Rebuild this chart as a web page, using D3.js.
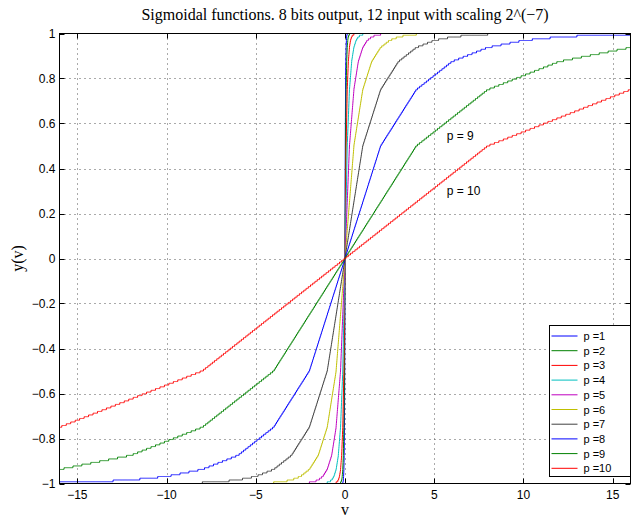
<!DOCTYPE html>
<html>
<head>
<meta charset="utf-8">
<script src="https://cdn.jsdelivr.net/npm/d3@7"></script>
<style>
  body { margin: 0; background: #fff; }
  svg { display: block; }
  .tick-label { font-family: "Liberation Sans", Arial, sans-serif; font-size: 12px; fill: #000; }
  .serif { font-family: "Liberation Serif", "Times New Roman", serif; fill: #000; }
</style>
</head>
<body>
<svg width="632" height="519"></svg>
<script>
// series: word length p, and the input value where each sigmoid reaches 0.5
const pValues = [1, 2, 3, 4, 5, 6, 7, 8, 9, 10];
const halfPoint = [1/64, 1/32, 1/16, 1/8, 1/4, 1/2, 1, 2, 4, 8];
// piecewise linear knots of the sigmoid at u = 0,1,2,...
const knotY = [0, 0.5, 0.75, 0.875, 0.9375, 0.96875, 0.984375, 0.9921875, 0.99609375, 1];
const colors = ["#0000ff", "#008000", "#ff0000", "#00bfbf", "#bf00bf", "#bfbf00", "#404040",
                "#0000ff", "#008000", "#ff0000"];
const xTicks = [-15, -10, -5, 0, 5, 10, 15];
const yTicks = [-1, -0.8, -0.6, -0.4, -0.2, 0, 0.2, 0.4, 0.6, 0.8, 1];
const inputBits = 12, inputFrac = 7, outputFrac = 7;

const svg = d3.select("svg");
const pLeft = 59.5, pRight = 630.5, pTop = 33.5, pBottom = 483.5;

const x = d3.scaleLinear().domain([-16, 16]).range([pLeft, pRight]);
const y = d3.scaleLinear().domain([-1, 1]).range([pBottom, pTop]);

function sigmoid(v, h) {
    const u = Math.abs(v) / h;
    const i = Math.floor(u);
    let s;
    if (i >= knotY.length - 1) s = 1;
    else s = knotY[i] + (u - i) * (knotY[i + 1] - knotY[i]);
    s = Math.round(s * (1 << outputFrac)) / (1 << outputFrac);
    return v < 0 ? -s : s;
}

// quantized input grid
const n = 1 << (inputBits - 1);
const inputs = d3.range(-n, n).map(k => k / (1 << inputFrac));

// grid
const grid = svg.append("g")
    .attr("stroke", "#555").attr("stroke-width", 1).attr("stroke-dasharray", "1,4");
xTicks.forEach(t => grid.append("line")
    .attr("x1", Math.round(x(t)) + 0.5).attr("x2", Math.round(x(t)) + 0.5)
    .attr("y1", pTop).attr("y2", pBottom));
yTicks.slice(1, -1).forEach(t => grid.append("line")
    .attr("y1", Math.round(y(t)) + 0.5).attr("y2", Math.round(y(t)) + 0.5)
    .attr("x1", pLeft).attr("x2", pRight));

svg.append("clipPath").attr("id", "plot")
    .append("rect").attr("x", pLeft).attr("y", pTop)
    .attr("width", pRight - pLeft).attr("height", pBottom - pTop);

const line = d3.line().x(d => x(d[0])).y(d => y(d[1]));

const curves = svg.append("g").attr("clip-path", "url(#plot)");
pValues.forEach((p, i) => {
    const pts = inputs.map(v => [v, sigmoid(v, halfPoint[i])]);
    curves.append("path")
        .attr("d", line(pts))
        .attr("fill", "none")
        .attr("stroke", colors[i])
        .attr("stroke-width", 1);
});

// axes box with inward ticks on all sides
const tickLen = 5;
const box = svg.append("g").attr("stroke", "#000").attr("stroke-width", 1);
box.append("rect").attr("x", pLeft).attr("y", pTop)
    .attr("width", pRight - pLeft).attr("height", pBottom - pTop).attr("fill", "none");
xTicks.forEach(t => {
    const px = Math.round(x(t)) + 0.5;
    box.append("line").attr("x1", px).attr("x2", px).attr("y1", pBottom).attr("y2", pBottom - tickLen);
    box.append("line").attr("x1", px).attr("x2", px).attr("y1", pTop).attr("y2", pTop + tickLen);
});
yTicks.forEach(t => {
    const py = Math.round(y(t)) + 0.5;
    box.append("line").attr("y1", py).attr("y2", py).attr("x1", pLeft).attr("x2", pLeft + tickLen);
    box.append("line").attr("y1", py).attr("y2", py).attr("x1", pRight).attr("x2", pRight - tickLen);
});

const fmt = t => (t < 0 ? "\u2212" : "") + d3.format("~g")(Math.abs(t));

svg.selectAll(".ytl").data(yTicks).enter().append("text")
    .attr("class", "tick-label")
    .attr("x", pLeft - 4)
    .attr("y", d => y(d) + 4)
    .attr("text-anchor", "end")
    .text(fmt);

svg.selectAll(".xtl").data(xTicks).enter().append("text")
    .attr("class", "tick-label")
    .attr("x", d => x(d))
    .attr("y", pBottom + 15)
    .attr("text-anchor", "middle")
    .text(fmt);

// title and axis labels
svg.append("text").attr("class", "serif")
    .attr("x", (pLeft + pRight) / 2).attr("y", 20)
    .attr("text-anchor", "middle").attr("font-size", 16)
    .text("Sigmoidal functions. 8 bits output, 12 input with scaling 2^(\u22127)");
svg.append("text").attr("class", "serif")
    .attr("x", (pLeft + pRight) / 2).attr("y", 515)
    .attr("text-anchor", "middle").attr("font-size", 16)
    .text("v");
svg.append("text").attr("class", "serif")
    .attr("transform", `translate(23,${(pTop + pBottom) / 2}) rotate(-90)`)
    .attr("text-anchor", "middle").attr("font-size", 16)
    .text("y(v)");

// annotations
const notes = [["p = 9", 5.7, 0.525], ["p = 10", 5.7, 0.282]];
svg.selectAll(".note").data(notes).enter().append("text")
    .attr("class", "tick-label")
    .attr("x", d => x(d[1]))
    .attr("y", d => y(d[2]))
    .text(d => d[0]);

// legend
const lg = svg.append("g");
const lgX = 549.5, lgY = 325.5, lgW = 81, lgH = 151, rowH = 14.7;
lg.append("rect").attr("x", lgX).attr("y", lgY).attr("width", lgW).attr("height", lgH)
    .attr("fill", "#fff").attr("stroke", "#000");
pValues.forEach((p, i) => {
    const ry = lgY + 10.5 + i * rowH;
    lg.append("line").attr("x1", lgX + 2).attr("x2", lgX + 28)
        .attr("y1", ry).attr("y2", ry)
        .attr("stroke", colors[i]).attr("stroke-width", 1);
    lg.append("text").attr("class", "tick-label")
        .attr("x", lgX + 34).attr("y", ry + 4)
        .style("font-size", "11px")
        .text("p =" + p);
});
</script>
</body>
</html>
